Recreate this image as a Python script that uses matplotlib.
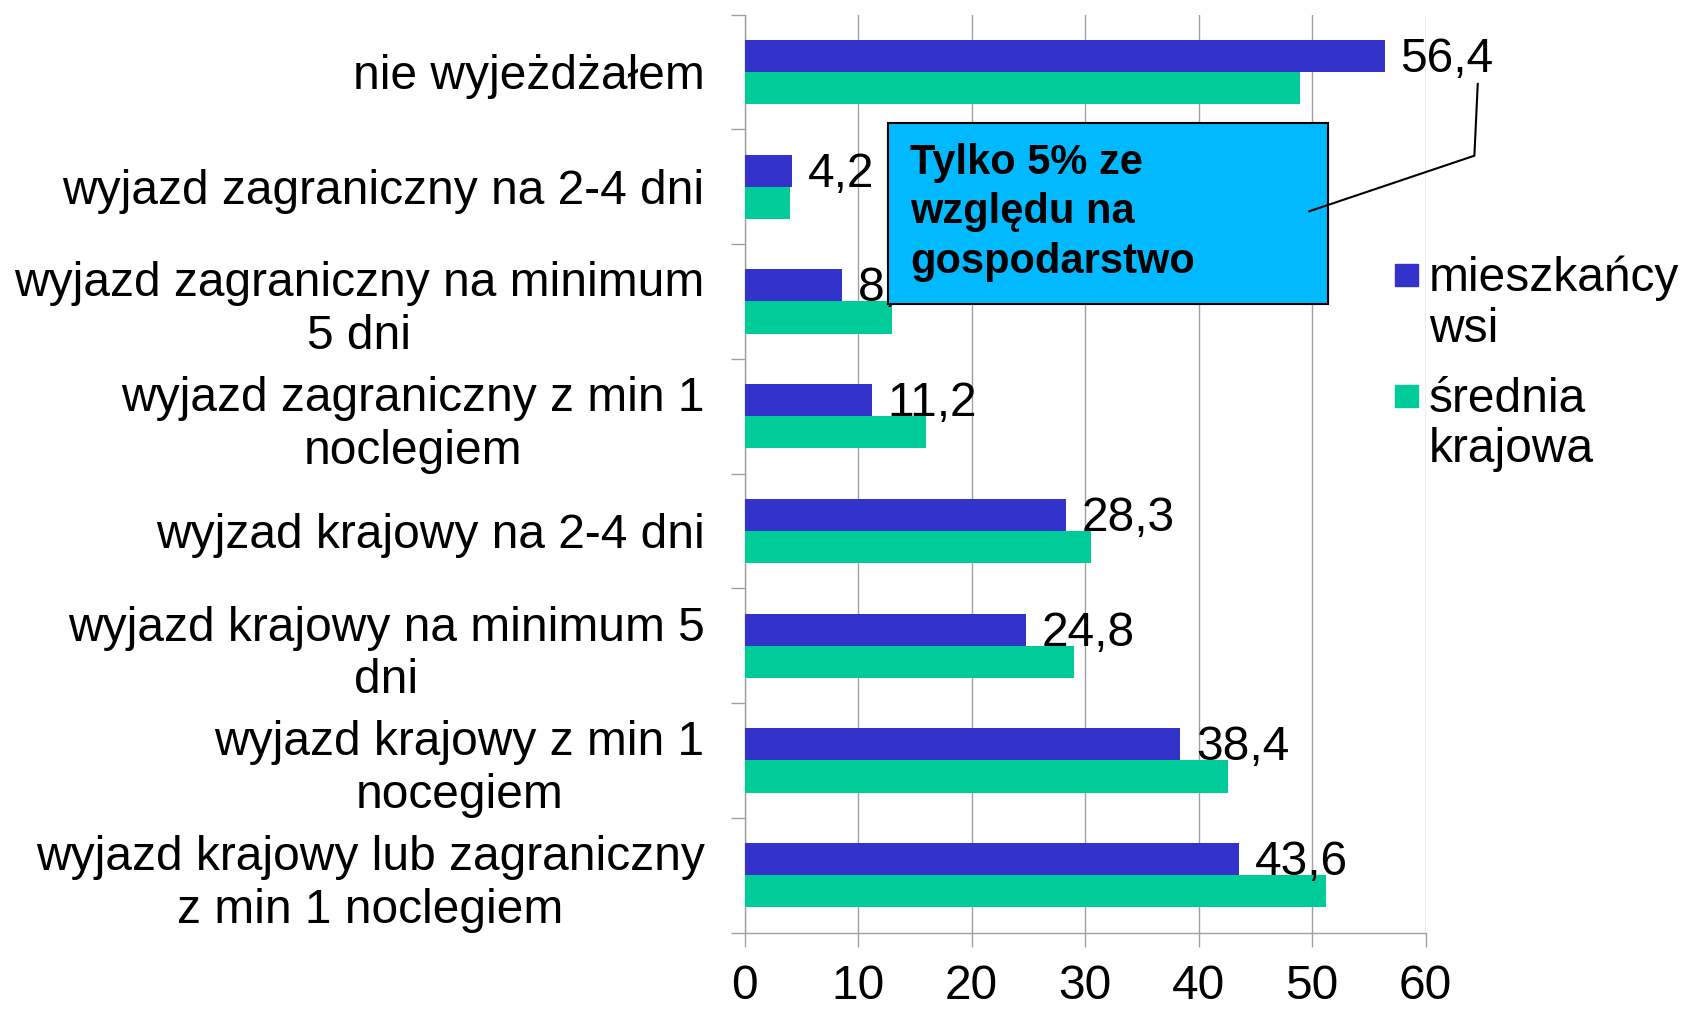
import numpy as np
import matplotlib
matplotlib.use("Agg")
import matplotlib.pyplot as plt
from matplotlib.patches import Rectangle
from matplotlib.lines import Line2D

plt.rcParams["font.family"] = ["Liberation Sans", "DejaVu Sans"]

CATEGORIES = [
    "nie wyjeżdżałem",
    "wyjazd zagraniczny na 2-4 dni",
    "wyjazd zagraniczny na minimum\n5 dni",
    "wyjazd zagraniczny z min 1\nnoclegiem",
    "wyjzad krajowy na 2-4 dni",
    "wyjazd krajowy na minimum 5\ndni",
    "wyjazd krajowy z min 1\nnocegiem",
    "wyjazd krajowy lub zagraniczny\nz min 1 noclegiem",
]
RURAL = [56.4, 4.2, 8.6, 11.2, 28.3, 24.8, 38.4, 43.6]
NATIONAL = [48.9, 4.0, 13.0, 16.0, 30.5, 29.0, 42.6, 51.2]
SERIES_NAMES = ["mieszkańcy\nwsi", "średnia\nkrajowa"]
X_TICKS = [0, 10, 20, 30, 40, 50, 60]

BLUE = "#3333CC"
GREEN = "#00CC99"
BOX = "#00B9FF"
GRID = "#A0A0A0"
FS = 34.5

fig = plt.figure(figsize=(16.85, 10.11), dpi=100)
ax = fig.add_axes([0.442, 0.0776, 0.404, 0.908])

y = np.arange(len(CATEGORIES))
h = 0.28
ax.barh(y - h / 2, RURAL, height=h, color=BLUE, zorder=3)
ax.barh(y + h / 2, NATIONAL, height=h, color=GREEN, zorder=3)

# value labels for the rural series
for yi, v in zip(y, RURAL):
    ax.text(v + 1.4, yi - h / 2 + 0.03, f"{v:.1f}".replace(".", ","),
            va="center", ha="left", fontsize=FS, zorder=4)

ax.set_xlim(0, 60)
ax.set_ylim(len(CATEGORIES) - 0.5, -0.5)
ax.set_xticks(X_TICKS)
ax.set_xticklabels([str(t) for t in X_TICKS], fontsize=FS)
ax.set_yticks(y)
ax.set_yticklabels(CATEGORIES, fontsize=FS, multialignment="center",
                   linespacing=1.22)
ax.set_yticks(np.arange(len(CATEGORIES) + 1) - 0.5, minor=True)
ax.tick_params(axis="y", which="major", length=0, pad=29)
ax.tick_params(axis="y", which="minor", length=10, color=GRID, width=1)
ax.tick_params(axis="x", length=10, color=GRID, width=1, pad=13)

ax.grid(axis="x", color=GRID, lw=1, zorder=0)
for s in ["top", "right"]:
    ax.spines[s].set_visible(False)
for s in ["left", "bottom"]:
    ax.spines[s].set_color(GRID)
    ax.spines[s].set_linewidth(1)

# legend, drawn by hand so the square sits on the first line
for i, (name, col) in enumerate(zip(SERIES_NAMES, [BLUE, GREEN])):
    sq_y = 0.728 - i * 0.12
    fig.patches.append(Rectangle((0.828, sq_y - 0.011), 0.0135, 0.022,
                                 transform=fig.transFigure, color=col))
    fig.text(0.848, sq_y + 0.019, name, fontsize=FS, va="top", ha="left",
             linespacing=1.15)

# callout box
fig.patches.append(Rectangle((0.527, 0.699), 0.261, 0.179,
                             transform=fig.transFigure, facecolor=BOX,
                             edgecolor="black", lw=1.5, zorder=2))
fig.lines.append(Line2D([0.777, 0.875, 0.877], [0.791, 0.846, 0.917],
                        transform=fig.transFigure, color="black", lw=1.5,
                        zorder=3))
fig.text(0.540, 0.790, "Tylko 5% ze\nwzględu na\ngospodarstwo",
         fontsize=30, fontweight="bold", va="center", ha="left",
         linespacing=1.3, zorder=4)

fig.savefig("out.png", dpi=100)
